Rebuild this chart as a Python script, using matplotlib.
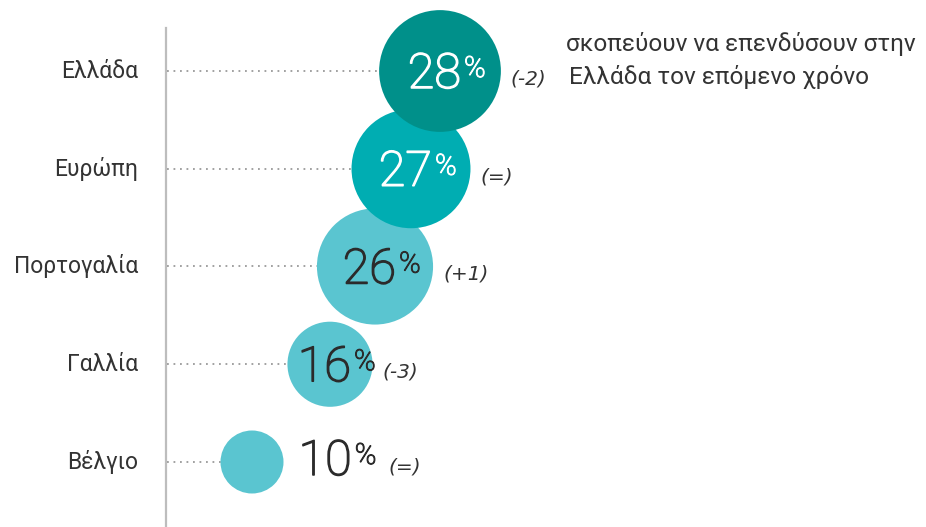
import matplotlib
matplotlib.use("Agg")
import matplotlib.pyplot as plt
import matplotlib.patheffects as pe

# data
countries = ["Ελλάδα", "Ευρώπη", "Πορτογαλία", "Γαλλία", "Βέλγιο"]
shares = [28, 27, 26, 16, 10]
changes = ["(-2)", "(=)", "(+1)", "(-3)", "(=)"]
centre_x = [440, 411, 375, 330, 252]   # bubble centres, in pixels from the left
note_lines = ["σκοπεύουν να επενδύσουν στην", "Ελλάδα τον επόμενο χρόνο"]

# styling
W, H, DPI = 926, 527, 100
PX = 72 / DPI                      # points per pixel
ROW0, ROW_STEP = 71, 97.75         # pixel y of first row and row spacing
AXIS_X = 165.5
FONT = ["Roboto", "DejaVu Sans"]
NOTE_FONT = ["DejaVu Sans"]
bubble_colors = ["#00908A", "#00ADB2", "#5AC5D0", "#5AC5D0", "#5AC5D0"]
num_colors = ["white", "white", "#2b2b2b", "#2b2b2b", "#2b2b2b"]
TEXT = "#333333"

plt.rcParams["font.family"] = FONT

fig = plt.figure(figsize=(W / DPI, H / DPI), dpi=DPI)
ax = fig.add_axes([0, 0, 1, 1])
ax.set_xlim(0, W)
ax.set_ylim((H - ROW0) / ROW_STEP, -ROW0 / ROW_STEP)
ax.axis("off")

# vertical axis line
ax.axvline(AXIS_X, ymin=0, ymax=1 - 28 / H, color="#bdbdbd", lw=1.6, zorder=1)

def radius(v):
    # bubble radius in pixels
    return 31.5 * (v / 10) ** 0.64

for i, (name, v, ch, cx) in enumerate(zip(countries, shares, changes, centre_x)):
    r = radius(v)
    col = num_colors[i]
    thick = [pe.withStroke(linewidth=1.1, foreground=col)]
    # dotted leader
    ax.plot([AXIS_X + 1, cx], [i, i], color="#9a9a9a", lw=1.3,
            linestyle=(0, (1, 2.6)), zorder=1)
    # bubble, upper ones drawn on top
    ax.scatter([cx], [i], s=(2 * r * PX) ** 2, color=bubble_colors[i],
               edgecolors="none", zorder=10 - i)
    # category label
    ax.text(138, i, name, ha="right", va="center", fontsize=16.5, color=TEXT)

    inside = r > 40
    if inside:
        num = ax.annotate(str(v), xy=(cx, i), xytext=(21 * PX, -17 * PX),
                          textcoords="offset points", ha="right", va="baseline",
                          fontsize=35, fontweight="light", color=col,
                          path_effects=thick, zorder=20)
    else:
        num = ax.annotate(str(v), xy=(cx + r, i), xytext=(15 * PX, -13 * PX),
                          textcoords="offset points", ha="left", va="baseline",
                          fontsize=35, fontweight="light", color=col,
                          path_effects=thick, zorder=20)
    pct = ax.annotate("%", xy=(1, i), xycoords=(num, "data"),
                      xytext=(3 * PX, (-6 if inside else -2) * PX),
                      textcoords="offset points", ha="left", va="baseline",
                      fontsize=21, fontweight="light", color=col,
                      path_effects=[pe.withStroke(linewidth=0.8, foreground=col)],
                      zorder=20)
    # change vs previous year
    if inside:
        ax.annotate(ch, xy=(cx + r, i), xytext=(10 * PX, -8 * PX),
                    textcoords="offset points", ha="left", va="center",
                    fontsize=14.5, style="italic", family=NOTE_FONT,
                    color=TEXT, zorder=20)
    else:
        ax.annotate(ch, xy=(1, i), xycoords=(pct, "data"),
                    xytext=(12 * PX, -5 * PX), textcoords="offset points",
                    ha="left", va="center", fontsize=14.5, style="italic",
                    family=NOTE_FONT, color=TEXT, zorder=20)

# side note
fig.text(566 / W, 1 - 44 / H, note_lines[0], ha="left", va="center",
         fontsize=17.6, color=TEXT)
fig.text(569 / W, 1 - 77 / H, note_lines[1], ha="left", va="center",
         fontsize=17.6, color=TEXT)

fig.savefig("out.png", dpi=DPI)
